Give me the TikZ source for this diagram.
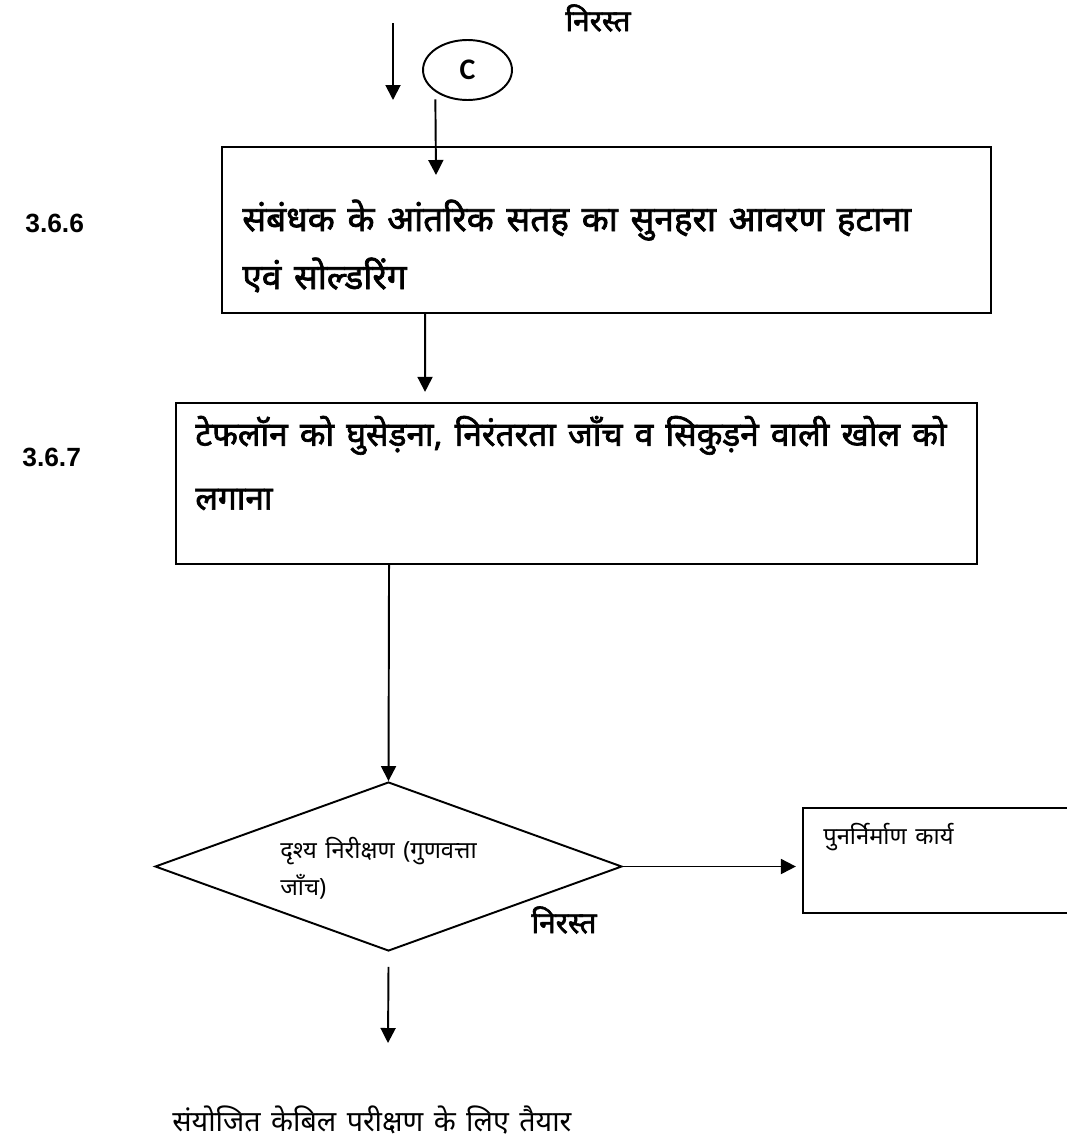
\documentclass[tikz,border=0pt]{standalone}
\usepackage{fontspec}
\setmainfont{Liberation Sans}
\newfontfamily\deva[Script=Devanagari, WordSpace=1.4]{Noto Sans}
\newfontfamily\devab[Script=Devanagari, FakeBold=2, WordSpace=1.4]{Noto Sans}
\newfontfamily\calib{Carlito}
\usepackage{tikz}
\usetikzlibrary{shapes.geometric, arrows.meta, positioning}
\tikzset{
  stepbox/.style={rectangle, draw=black, line width=1.3pt, inner sep=0pt},
  decision/.style={diamond, draw=black, line width=1.1pt, inner sep=0pt},
  connector/.style={ellipse, draw=black, line width=1.1pt, inner sep=0pt},
  arrow/.style={line width=1.1pt, -{Triangle[length=0.3cm, width=0.3cm]}},
  boxtext/.style={font=\devab\fontsize{19}{33}\selectfont, align=left, inner sep=0pt, anchor=west},
  smalltext/.style={font=\deva\fontsize{13.5}{21}\selectfont, align=left, inner sep=0pt, anchor=west},
  rejtext/.style={font=\devab\fontsize{17}{20}\selectfont, inner sep=0pt},
  stepno/.style={font=\bfseries\fontsize{15}{18}\selectfont, inner sep=0pt, anchor=west}
}

\begin{document}
\begin{tikzpicture}[x=0.02cm, y=-0.02cm]
\useasboundingbox (0,0) rectangle (1067,1139);
\clip (0,0) rectangle (1067,1139);

% top part
\node[rejtext] (rejTop) at (598,18) {निरस्त};
\coordinate (inStart) at (393,23);
\coordinate (inEnd) at (393,100);
\draw[arrow] (inStart) -- (inEnd);
\node[connector, minimum width=1.78cm, minimum height=1.2cm, font=\calib\bfseries\fontsize{17}{18}\selectfont] (conC) at (467.5,70) {\raisebox{-2pt}{C}\hspace{6pt}};
\coordinate (cEnd) at (436,175);

% steps
\node[stepbox, minimum width=15.38cm, minimum height=3.32cm] (solder) at (606.5,230) {};
\node[boxtext, font=\devab\fontsize{20}{33}\selectfont] (solderT) at (242,246) {संबंधक के आंतरिक सतह का सुनहरा आवरण हटाना\\एवं सोल्डरिंग};
\node[stepno] (no366) at (25,223) {3.6.6};

\node[stepbox, minimum width=16.02cm, minimum height=3.22cm] (teflon) at (576.5,483.5) {};
\node[boxtext, font=\devab\fontsize{19}{36.3}\selectfont] (teflonT) at (195,463) {टेफलॉन को घुसेड़ना, निरंतरता जाँच व सिकुड़ने वाली खोल को\\लगाना};
\node[stepno] (no367) at (22,457) {3.6.7};

% inspection
\node[decision, minimum width=9.34cm, minimum height=3.38cm] (inspect) at (388.5,866.5) {};
\node[smalltext] (inspectT) at (280,868.5) {दृश्य निरीक्षण (गुणवत्ता\\जाँच)};
\node[rejtext] (rejLow) at (564,920) {निरस्त};

\node[stepbox, minimum width=5.5cm, minimum height=2.1cm] (rework) at (940.5,860.5) {};
\node[smalltext] (reworkT) at (823,837) {पुनर्निर्माण कार्य};

\coordinate (outEnd) at (388,1043);
\node[font=\deva\fontsize{16.3}{18}\selectfont, inner sep=0pt, anchor=west] (ready) at (172,1120) {संयोजित केबिल परीक्षण के लिए तैयार};

\draw[arrow] ([yshift=-0.15cm]conC.south west) -- (cEnd);
\draw[arrow, shorten >=0.2cm] ([xshift=-3.63cm]solder.south) -- ([xshift=-3.03cm]teflon.north);
\draw[arrow] ([xshift=-3.75cm]teflon.south) -- (inspect.north);
\draw[arrow, shorten >=0.12cm] (inspect.east) -- (inspect.east -| rework.west);
\draw[arrow] ([yshift=-0.3cm]inspect.south) -- (outEnd);
\end{tikzpicture}
\end{document}
